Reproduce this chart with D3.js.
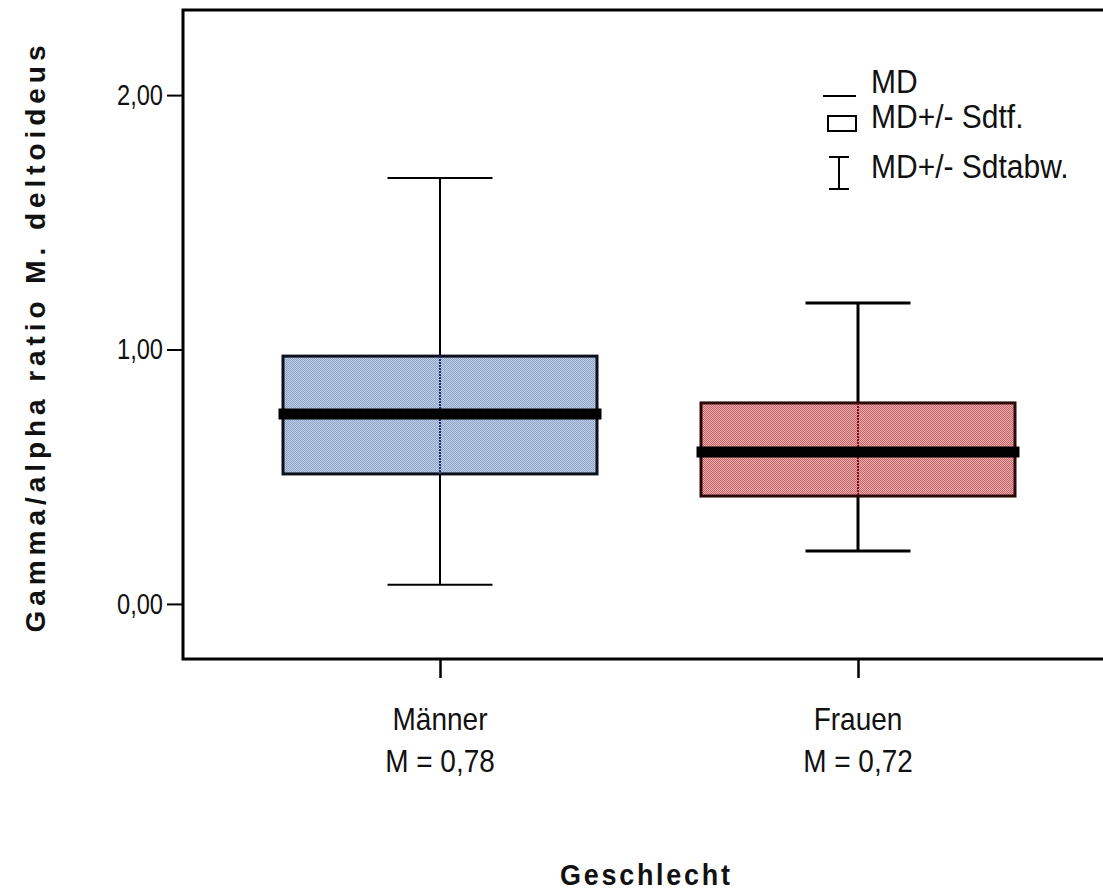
<!DOCTYPE html>
<html>
<head>
<meta charset="utf-8">
<script src="https://d3js.org/d3.v7.min.js"></script>
<style>
  body { margin: 0; background: #fff; }
  text { font-family: "Liberation Sans", Arial, sans-serif; fill: #111; }
</style>
</head>
<body>
<script>
// box plot: Gamma/alpha ratio by Geschlecht

//data
var groups = ["Männer", "Frauen"];
var groupMeans = ["M = 0,78", "M = 0,72"];
var whiskerLow = [0.075, 0.208];
var boxLow = [0.511, 0.424];
var medians = [0.747, 0.597];
var boxHigh = [0.974, 0.790];
var whiskerHigh = [1.674, 1.183];
var yTicks = [0, 1, 2];
var legendLabels = ["MD", "MD+/- Sdtf.", "MD+/- Sdtabw."];

//svg size and plot area
var width = 1103,
    height = 892;
var plot = {left: 183, top: 10, bottom: 659, right: 1160};

var svg = d3.select("body")
    .append("svg")
    .attr("width", width)
    .attr("height", height);

//text stretched a bit upward like the original export
function tallText(parent, x, y, txt, size, anchor){
    return parent.append("text")
        .attr("transform", "translate(" + x + "," + y + ") scale(1,1.12)")
        .attr("text-anchor", anchor || "start")
        .style("font-size", size + "px")
        .text(txt);
}

//hatched fills like the old spss look
var defs = svg.append("defs");
var fills = [
    {id: "fillBlue", light: "#c3cfe3", dark: "#8ba3c9", edge: "#0b0f1e", mid: "#1b2f78"},
    {id: "fillRed", light: "#e8aaab", dark: "#c6676b", edge: "#2a0808", mid: "#7a1212"}
];
fills.forEach(function(f){
    var p = defs.append("pattern")
        .attr("id", f.id)
        .attr("patternUnits", "userSpaceOnUse")
        .attr("width", 2)
        .attr("height", 2);
    p.append("rect").attr("width", 2).attr("height", 2).attr("fill", f.light);
    p.append("rect").attr("width", 1).attr("height", 1).attr("fill", f.dark);
    p.append("rect").attr("x", 1).attr("y", 1).attr("width", 1).attr("height", 1).attr("fill", f.dark);
});

//scales
var y = d3.scaleLinear()
    .domain([-0.2165, 2.3345])
    .range([plot.bottom, plot.top]);

var x = d3.scalePoint()
    .domain(groups)
    .range([plot.left + 257, plot.left + 675]);

var boxWidth = 314,
    capWidth = 105,
    medianWidth = 323;

//frame (right side runs off the picture)
svg.append("rect")
    .attr("x", plot.left)
    .attr("y", plot.top)
    .attr("width", plot.right - plot.left)
    .attr("height", plot.bottom - plot.top)
    .attr("fill", "none")
    .attr("stroke", "#000")
    .attr("stroke-width", 3);

//y axis
var yAxis = d3.axisLeft(y)
    .tickValues(yTicks)
    .tickSize(16)
    .tickPadding(5)
    .tickFormat(function(d){ return d3.format(".2f")(d).replace(".", ","); });

var gy = svg.append("g")
    .attr("transform", "translate(" + plot.left + ",0)")
    .call(yAxis);
gy.select(".domain").remove();
gy.selectAll(".tick line").attr("stroke", "#000").attr("stroke-width", 2);
gy.selectAll(".tick text")
    .attr("fill", "#111")
    .attr("x", -20)
    .attr("textLength", 46)
    .attr("lengthAdjust", "spacingAndGlyphs")
    .style("font-size", "29px");

//x axis
var xAxis = d3.axisBottom(x)
    .tickSize(19)
    .tickFormat("");
var gx = svg.append("g")
    .attr("transform", "translate(0," + plot.bottom + ")")
    .call(xAxis);
gx.select(".domain").remove();
gx.selectAll(".tick line").attr("stroke", "#000").attr("stroke-width", 2.5);

//category labels
groups.forEach(function(g, i){
    tallText(svg, x(g), 730, g, 28, "middle");
    tallText(svg, x(g), 772, groupMeans[i], 28, "middle");
});

//boxes
groups.forEach(function(g, i){
    var cx = x(g), f = fills[i];
    var sw = i == 0 ? 2 : 3;

    //whiskers outside the box
    svg.append("line")
        .attr("x1", cx).attr("x2", cx)
        .attr("y1", y(whiskerHigh[i])).attr("y2", y(boxHigh[i]))
        .attr("stroke", "#000").attr("stroke-width", sw);
    svg.append("line")
        .attr("x1", cx).attr("x2", cx)
        .attr("y1", y(boxLow[i])).attr("y2", y(whiskerLow[i]))
        .attr("stroke", "#000").attr("stroke-width", sw);
    [whiskerHigh[i], whiskerLow[i]].forEach(function(v){
        svg.append("line")
            .attr("x1", cx - capWidth / 2).attr("x2", cx + capWidth / 2)
            .attr("y1", y(v)).attr("y2", y(v))
            .attr("stroke", "#000").attr("stroke-width", sw);
    });

    svg.append("rect")
        .attr("x", cx - boxWidth / 2)
        .attr("y", y(boxHigh[i]))
        .attr("width", boxWidth)
        .attr("height", y(boxLow[i]) - y(boxHigh[i]))
        .attr("fill", "url(#" + f.id + ")")
        .attr("stroke", f.edge)
        .attr("stroke-width", 3);

    //dotted whisker through the box
    svg.append("line")
        .attr("x1", cx).attr("x2", cx)
        .attr("y1", y(boxHigh[i])).attr("y2", y(boxLow[i]))
        .attr("stroke", f.mid).attr("stroke-width", 2)
        .attr("stroke-dasharray", "2,1");

    //median
    svg.append("line")
        .attr("x1", cx - medianWidth / 2).attr("x2", cx + medianWidth / 2)
        .attr("y1", y(medians[i])).attr("y2", y(medians[i]))
        .attr("stroke", "#000").attr("stroke-width", 11);
});

//legend
var lg = svg.append("g").attr("class", "legend");
lg.append("line")
    .attr("x1", 823).attr("x2", 856).attr("y1", 96).attr("y2", 96)
    .attr("stroke", "#000").attr("stroke-width", 2);
lg.append("rect")
    .attr("x", 828).attr("y", 116).attr("width", 28).attr("height", 15)
    .attr("fill", "#fff").attr("stroke", "#000").attr("stroke-width", 2);
lg.append("path")
    .attr("d", "M829,157H849M839,157V189M829,189H849")
    .attr("fill", "none").attr("stroke", "#000").attr("stroke-width", 2);
var legendY = [93, 128, 178];
legendLabels.forEach(function(l, i){
    tallText(lg, 871, legendY[i], l, 30);
});

//axis titles
svg.append("text")
    .attr("transform", "translate(45,339) rotate(-90)")
    .attr("text-anchor", "middle")
    .attr("textLength", 587)
    .attr("lengthAdjust", "spacing")
    .style("font-size", "28px")
    .style("font-weight", "bold")
    .text("Gamma/alpha  ratio M. deltoideus");

svg.append("text")
    .attr("transform", "translate(645,885) scale(1,1.12)")
    .attr("text-anchor", "middle")
    .attr("textLength", 170)
    .attr("lengthAdjust", "spacing")
    .style("font-size", "27px")
    .style("font-weight", "bold")
    .text("Geschlecht");
</script>
</body>
</html>
